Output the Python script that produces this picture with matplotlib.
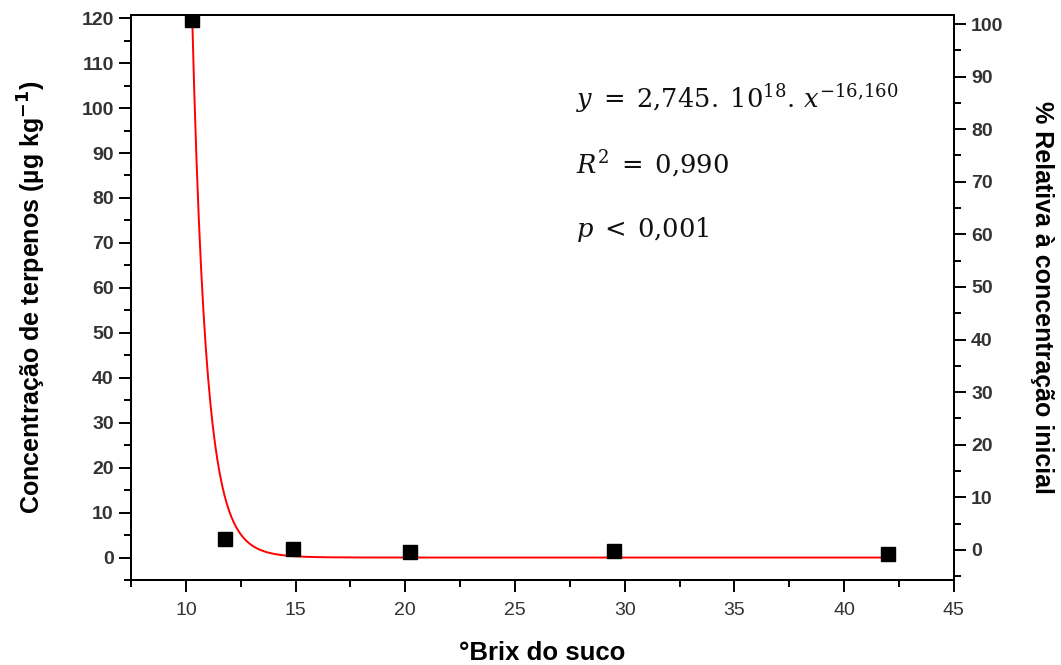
import matplotlib
matplotlib.use("Agg")
import matplotlib.pyplot as plt
import numpy as np
from matplotlib.ticker import MultipleLocator

plt.rcParams['font.family'] = ['Liberation Sans', 'DejaVu Sans']

# measured points (°Brix, concentration)
brix = [10.3, 11.8, 14.9, 20.2, 29.5, 42.0]
conc = [119.5, 4.2, 2.0, 1.3, 1.5, 0.7]

# fitted power law from the chart
fit_a = 2.745e18
fit_b = -16.160

# right axis: % relative to initial concentration
pct0_left = 1.69     # left value where right axis reads 0
pct100_left = 118.7  # left value where right axis reads 100

fig = plt.figure(figsize=(10.61, 6.65), dpi=100)
ax = fig.add_axes([0.1235, 0.1278, 0.7755, 0.8496])

xf = np.linspace(10.27, 42.0, 600)
yf = fit_a * xf ** fit_b
ax.plot(xf, yf, color='#ff0000', lw=1.4, zorder=2)
ax.plot(brix, conc, 's', color='black', ms=10, zorder=3)

ax.set_xlim(7.5, 45)
ax.set_ylim(-5, 120.7)
ax.xaxis.set_major_locator(MultipleLocator(5))
ax.xaxis.set_minor_locator(MultipleLocator(2.5))
ax.yaxis.set_major_locator(MultipleLocator(10))
ax.yaxis.set_minor_locator(MultipleLocator(5))
ax.set_xticks(np.arange(10, 46, 5))
ax.set_yticks(np.arange(0, 121, 10))

for s in ax.spines.values():
    s.set_linewidth(1.4)

ax.tick_params(axis='both', which='major', direction='out', length=8.5, width=1.4)
ax.tick_params(axis='both', which='minor', direction='out', length=5, width=1.4)
ax.tick_params(axis='x', pad=7, labelsize=14, labelcolor='#333333')
ax.tick_params(axis='y', pad=4, labelsize=14, labelcolor='#333333')
for lbl in ax.get_yticklabels():
    lbl.set_fontweight('bold')

ax.set_xlabel('°Brix do suco', fontsize=18.5, fontweight='bold', labelpad=16)
ax.set_ylabel(r'Concentração de terpenos (µg kg$^{\mathbf{-1}}$)', fontsize=18,
              fontweight='bold', labelpad=24)

# secondary axis
ax2 = ax.twinx()
scale = (pct100_left - pct0_left) / 100.0
lo, hi = ax.get_ylim()
ax2.set_ylim((lo - pct0_left) / scale, (hi - pct0_left) / scale)
ax2.yaxis.set_major_locator(MultipleLocator(10))
ax2.yaxis.set_minor_locator(MultipleLocator(5))
ax2.set_yticks(np.arange(0, 101, 10))
ax2.tick_params(axis='y', which='major', direction='out', length=8.5, width=1.4,
                pad=4, labelsize=14, labelcolor='#333333')
ax2.tick_params(axis='y', which='minor', direction='out', length=5, width=1.4)
for lbl in ax2.get_yticklabels():
    lbl.set_fontweight('bold')
for s in ax2.spines.values():
    s.set_linewidth(1.4)
ax2.set_ylabel('% Relativa à concentração inicial', fontsize=18, fontweight='bold',
               rotation=270, labelpad=36)

# equation text
eq_kw = dict(transform=ax.transData, fontsize=18.5, color='#111111',
             math_fontfamily='dejavuserif')
ax.text(27.8, 100, r'$y\;=\;2{,}745.\;10^{18}.\,x^{-16{,}160}$', **eq_kw)
ax.text(27.8, 85.4, r'$R^2\;=\;0{,}990$', **eq_kw)
ax.text(27.8, 71.4, r'$p\;<\;0{,}001$', **eq_kw)

fig.savefig('out.png', dpi=100)
